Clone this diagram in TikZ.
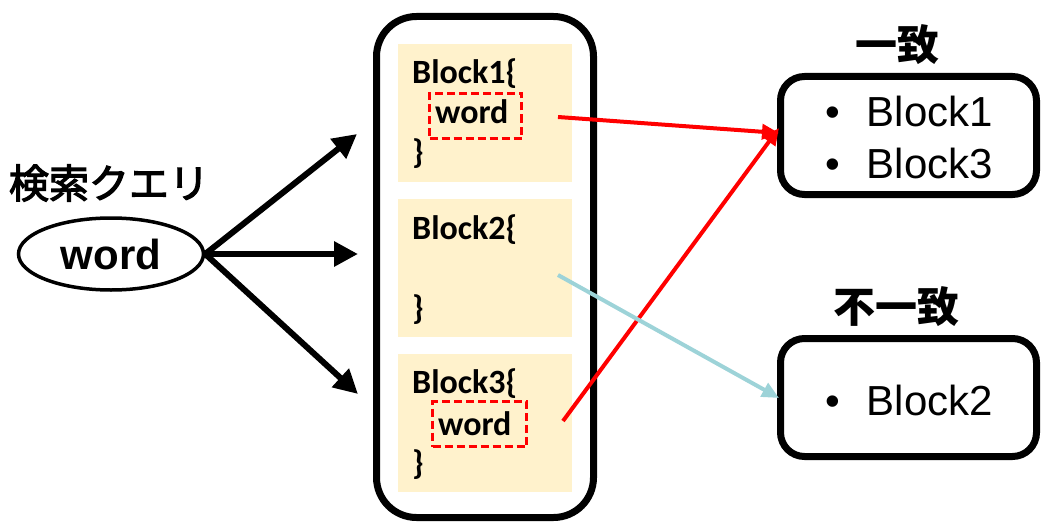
\documentclass[tikz,border=0pt]{standalone}
\usepackage{fontspec}
\setmainfont{Liberation Sans}
\newfontfamily\cjkfont{Noto Sans CJK JP}
\newfontfamily\cjkmed[FakeBold=3]{Noto Sans CJK JP}
\newfontfamily\calfont{Carlito}
\usetikzlibrary{arrows.meta,shapes.geometric}
\definecolor{panelc}{HTML}{FFF2CC}
\definecolor{cyanc}{HTML}{9DD3D8}
\definecolor{redc}{HTML}{FF0000}
\tikzset{
  panel/.style={fill=panelc, draw=none, inner sep=0pt, outer sep=0pt, minimum width=174pt, minimum height=138pt},
  blk/.style={font=\calfont\bfseries\fontsize{34}{34}\selectfont, anchor=base west, inner sep=0pt},
  hit/.style={draw=redc, line width=3pt, dash pattern=on 8pt off 4pt, inner sep=0pt, outer sep=0pt},
  resbox/.style={draw, line width=7pt, rounded corners=24pt, minimum width=256pt, minimum height=118pt, inner sep=0pt},
  item/.style={font=\fontsize{42}{42}\selectfont, anchor=base west, inner sep=0pt},
  lbl/.style={font=\cjkfont\bfseries\fontsize{42}{42}\selectfont, inner sep=0pt},
  qarrow/.style={line width=6pt, -{Triangle[length=24pt,width=24pt]}},
  redarrow/.style={draw=redc, line width=4pt, -{Triangle[length=17pt,width=15pt]}},
  cyanarrow/.style={draw=cyanc, line width=4pt, -{Triangle[length=17pt,width=15pt]}},
}
\begin{document}
\begin{tikzpicture}[x=1pt,y=-1pt]
\useasboundingbox (0,0) rectangle (1043,524);
% query
\node[font=\cjkmed\fontsize{40}{40}\selectfont, inner sep=0pt] (ql) at (109,183) {検索クエリ};
\node[draw, ellipse, line width=3.5pt, minimum width=185pt, minimum height=72pt, inner sep=0pt,
      font=\bfseries\fontsize{42}{42}\selectfont] (w) at (111,254) {word};
% big container
\node[draw, line width=7pt, rounded corners=40pt, minimum width=217pt, minimum height=501pt, inner sep=0pt] (bb) at (485,267) {};
% panels
\node[panel] (p1) at (485,113) {};
\node[panel] (p2) at (485,268) {};
\node[panel] (p3) at (485,423) {};
% block texts
\node[blk] (b1) at (412,84) {Block1\{};
\node[blk] (w1) at (435,124) {word};
\node[blk] (c1) at (412,163) {\}};
\node[blk] (b2) at (412,239) {Block2\{};
\node[blk] (c2) at (412,319) {\}};
\node[blk] (b3) at (412,393) {Block3\{};
\node[blk] (w3) at (438,435) {word};
\node[blk] (c3) at (412,474) {\}};
\node[hit, minimum width=92pt, minimum height=45pt] (h1) at (475.5,116) {};
\node[hit, minimum width=94pt, minimum height=45pt] (h3) at (479.5,424) {};
% query arrows
\coordinate (t1) at (357,134);
\coordinate (t2) at (358,254);
\coordinate (t3) at (358,394);
\draw[qarrow] (w.east) -- (t1);
\draw[qarrow] (w.east) -- (t2);
\draw[qarrow] (w.east) -- (t3);
% result boxes
\node[resbox] (r1) at (908.5,135.5) {};
\node[resbox] (r2) at (908.5,397.5) {};
\node[lbl] (l1) at (897,45) {一致};
\node[lbl] (l2) at (896,307) {不一致};
\node[item] (i1) at (825,127) {•\hspace{27pt}Block1};
\node[item] (i3) at (825,178) {•\hspace{27pt}Block3};
\node[item] (i2) at (825,415) {•\hspace{27pt}Block2};
% match arrows
\coordinate (s1) at (558,117);
\coordinate (s2) at (558,275);
\coordinate (s3) at (563,421);
\coordinate (e1) at (779,133);
\coordinate (e3) at (779,128);
\coordinate (e2) at (779,398);
\draw[redarrow] (s1) -- (e1);
\draw[redarrow] (s3) -- (e3);
\draw[cyanarrow] (s2) -- (e2);
\end{tikzpicture}
\end{document}
